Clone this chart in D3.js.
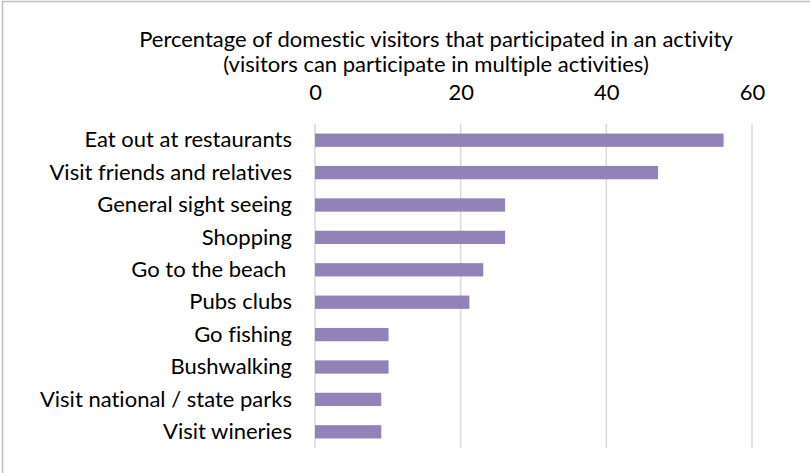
<!DOCTYPE html>
<html>
<head>
<meta charset="utf-8">
<script src="https://cdn.jsdelivr.net/npm/d3@7"></script>
<style>
  body { margin: 0; background: #fff; }
  svg text { font-family: Lato, "Open Sans", sans-serif; fill: #000; font-variant-ligatures: none; }
</style>
</head>
<body>
<svg id="chart"></svg>
<script>
const width = 810;
const height = 473;
const margin = { top: 124, right: 58, bottom: 25, left: 315 };

const categories = [
    "Eat out at restaurants",
    "Visit friends and relatives",
    "General sight seeing",
    "Shopping",
    "Go to the beach ",
    "Pubs clubs",
    "Go fishing",
    "Bushwalking",
    "Visit national / state parks",
    "Visit wineries"
];
const values = [56.1, 47.1, 26.1, 26.1, 23.1, 21.2, 10.1, 10.1, 9.1, 9.1];
const xTicks = [0, 20, 40, 60];
const titleLines = [
    "Percentage of domestic visitors that participated in an activity",
    "(visitors can participate in multiple activities)"
];

const fontSize = "22px";

const svg = d3.select("#chart")
    .attr("width", width)
    .attr("height", height);

// outer frame (only top and left edges show in the picture)
svg.append("line")
    .attr("x1", 2.5).attr("x2", 2.5).attr("y1", 1).attr("y2", height)
    .attr("stroke", "#bfbfbf").attr("stroke-width", 1.5);
svg.append("line")
    .attr("x1", 2).attr("x2", width).attr("y1", 1.5).attr("y2", 1.5)
    .attr("stroke", "#bfbfbf").attr("stroke-width", 1.5);

const xScale = d3.scaleLinear()
    .domain([0, 60])
    .range([margin.left, width - margin.right]);

const yScale = d3.scaleBand()
    .domain(categories)
    .range([margin.top, height - margin.bottom])
    .paddingInner(0.59)
    .paddingOuter(0.295);

// gridlines
svg.append("g")
    .selectAll("line")
    .data(xTicks)
    .join("line")
    .attr("x1", d => xScale(d))
    .attr("x2", d => xScale(d))
    .attr("y1", margin.top)
    .attr("y2", height - margin.bottom)
    .attr("stroke", "#d9d9d9")
    .attr("stroke-width", 1.5);

// top axis labels
const xAxis = d3.axisTop(xScale)
    .tickValues(xTicks)
    .tickSize(0)
    .tickPadding(0);

svg.append("g")
    .attr("transform", "translate(0, 100)")
    .call(xAxis)
    .call(g => g.select(".domain").remove())
    .selectAll("text")
    .attr("dy", 0)
    .style("font-size", fontSize)
    .style("font-family", "Lato, sans-serif")
    .attr("fill", "#000");

// bars
svg.selectAll(".bar")
    .data(values)
    .join("rect")
    .attr("class", "bar")
    .attr("x", xScale(0))
    .attr("y", (d, i) => yScale(categories[i]))
    .attr("width", d => xScale(d) - xScale(0))
    .attr("height", yScale.bandwidth())
    .attr("fill", "#9382b8");

// category labels
svg.append("g")
    .selectAll("text")
    .data(categories)
    .join("text")
    .attr("x", 292)
    .attr("y", d => yScale(d) + yScale.bandwidth() / 2)
    .attr("dy", "0.33em")
    .attr("text-anchor", "end")
    .style("white-space", "pre")
    .style("font-size", fontSize)
    .text(d => d);

// title
svg.append("g")
    .selectAll("text")
    .data(titleLines)
    .join("text")
    .attr("x", 436)
    .attr("y", (d, i) => 47 + i * 25)
    .attr("text-anchor", "middle")
    .style("font-size", fontSize)
    .text(d => d);
</script>
</body>
</html>
